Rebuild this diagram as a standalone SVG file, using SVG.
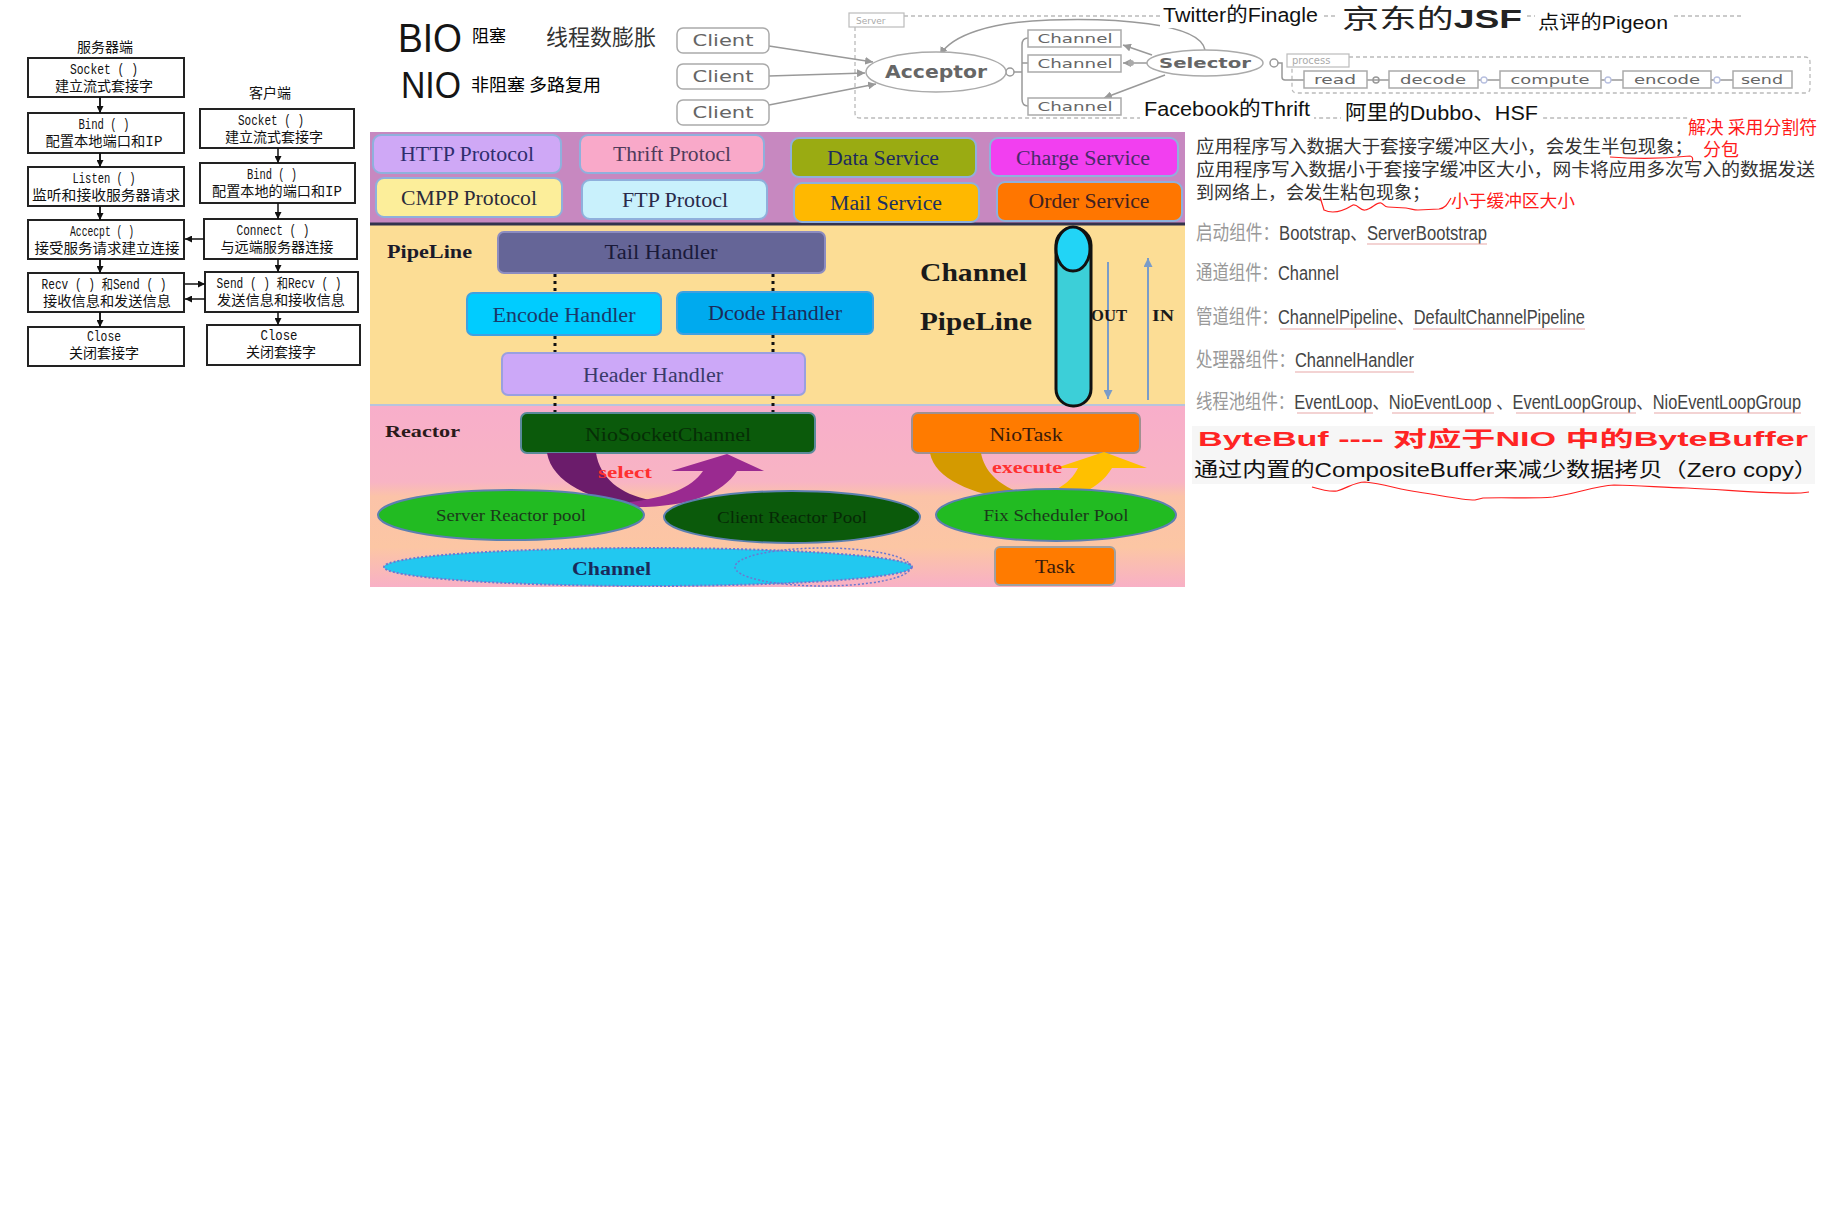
<svg xmlns="http://www.w3.org/2000/svg" width="1829" height="1223" viewBox="0 0 1829 1223">
<defs>
<style>
.lc{font-family:"Liberation Mono","Noto Sans CJK SC",monospace;font-size:14px;fill:#111;text-anchor:middle}
.lt{font-family:"Noto Sans CJK SC",sans-serif;font-size:14px;fill:#111;text-anchor:middle}
.lb{fill:#fff;stroke:#222;stroke-width:2}
.gr{fill:#fff;stroke:#aaa;stroke-width:1.5}
.gt{font-family:"DejaVu Sans",sans-serif;fill:#666;text-anchor:middle}
.sf{font-family:"Liberation Serif","Noto Sans CJK SC",serif;text-anchor:middle}
.sb{font-family:"Liberation Serif",serif;font-weight:bold}
.cn{font-family:"Liberation Sans","Noto Sans CJK SC",sans-serif}
.zh{font-family:"Noto Sans CJK SC",sans-serif}
.pb{stroke:#8FB0DC;stroke-width:2}
.dot{stroke:#111;stroke-width:3;stroke-dasharray:3 4;fill:none}
.dash{fill:none;stroke:#bbb;stroke-width:1.3;stroke-dasharray:4 3}
.gl{fill:none;stroke:#999;stroke-width:1.5}
.red{fill:#ff1a1a}
.rl{fill:none;stroke:#ff2020;stroke-width:1.2}
.ul{stroke:#e8a8a8;stroke-width:1.2}
</style>
<marker id="ab" viewBox="0 0 8 8" refX="8" refY="4" markerWidth="7" markerHeight="7" markerUnits="userSpaceOnUse" orient="auto"><path d="M0,0 L8,4 L0,8 z" fill="#111"/></marker>
<marker id="ag" viewBox="0 0 8 8" refX="8" refY="4" markerWidth="8" markerHeight="8" markerUnits="userSpaceOnUse" orient="auto"><path d="M0,0 L8,4 L0,8 z" fill="#999"/></marker>
<marker id="abl" viewBox="0 0 8 8" refX="8" refY="4" markerWidth="9" markerHeight="9" markerUnits="userSpaceOnUse" orient="auto"><path d="M0,0 L8,4 L0,8 z" fill="#7a9cc8"/></marker>
<linearGradient id="rg" x1="0" y1="0" x2="0" y2="1">
<stop offset="0" stop-color="#f8aeca"/><stop offset="0.42" stop-color="#f8b4c4"/><stop offset="0.5" stop-color="#fbc3a8"/><stop offset="0.78" stop-color="#fcc6a4"/><stop offset="1" stop-color="#f8b0c6"/>
</linearGradient>
</defs>
<rect width="1829" height="1223" fill="#fff"/>

<!-- Left socket flowchart -->
<text x="105" y="52" class="lt" font-size="14">服务器端</text>
<text x="270" y="98" class="lt" font-size="14">客户端</text>
<g id="s-socket"><rect class="lb" x="28" y="58" width="156" height="39"/><text class="lc" x="104" y="74" textLength="68" lengthAdjust="spacingAndGlyphs">Socket ( )</text><text class="lt" x="104" y="91">建立流式套接字</text></g>
<g id="s-bind"><rect class="lb" x="28" y="113" width="156" height="40"/><text class="lc" x="104" y="129" textLength="51" lengthAdjust="spacingAndGlyphs">Bind ( )</text><text class="lc" x="104" y="146" textLength="117" lengthAdjust="spacingAndGlyphs">配置本地端口和IP</text></g>
<g id="s-listen"><rect class="lb" x="28" y="167" width="156" height="39"/><text class="lc" x="104" y="183" textLength="63" lengthAdjust="spacingAndGlyphs">Listen ( )</text><text class="lt" x="106" y="200" textLength="148" lengthAdjust="spacingAndGlyphs">监听和接收服务器请求</text></g>
<g id="s-accept"><rect class="lb" x="28" y="220" width="156" height="39"/><text class="lc" x="102" y="236" textLength="64" lengthAdjust="spacingAndGlyphs">Accecpt ( )</text><text class="lt" x="107" y="253" textLength="145" lengthAdjust="spacingAndGlyphs">接受服务请求建立连接</text></g>
<g id="s-recv"><rect class="lb" x="28" y="273" width="156" height="39"/><text class="lc" x="104" y="289" textLength="125" lengthAdjust="spacingAndGlyphs">Recv ( ) 和Send ( )</text><text class="lt" x="107" y="306" textLength="128" lengthAdjust="spacingAndGlyphs">接收信息和发送信息</text></g>
<g id="s-close"><rect class="lb" x="28" y="327" width="156" height="39"/><text class="lc" x="104" y="341" textLength="34" lengthAdjust="spacingAndGlyphs">Close</text><text class="lt" x="104" y="358">关闭套接字</text></g>

<g id="c-socket"><rect class="lb" x="200" y="109" width="154" height="39"/><text class="lc" x="271" y="125" textLength="66" lengthAdjust="spacingAndGlyphs">Socket ( )</text><text class="lt" x="274" y="142">建立流式套接字</text></g>
<g id="c-bind"><rect class="lb" x="200" y="163" width="155" height="40"/><text class="lc" x="272" y="179" textLength="50" lengthAdjust="spacingAndGlyphs">Bind ( )</text><text class="lc" x="277" y="196" textLength="130" lengthAdjust="spacingAndGlyphs">配置本地的端口和IP</text></g>
<g id="c-connect"><rect class="lb" x="204" y="219" width="153" height="40"/><text class="lc" x="273" y="235" textLength="73" lengthAdjust="spacingAndGlyphs">Connect ( )</text><text class="lt" x="277" y="252" textLength="113" lengthAdjust="spacingAndGlyphs">与远端服务器连接</text></g>
<g id="c-send"><rect class="lb" x="205" y="272" width="153" height="40"/><text class="lc" x="279" y="288" textLength="125" lengthAdjust="spacingAndGlyphs">Send ( ) 和Recv ( )</text><text class="lt" x="281" y="305" textLength="128" lengthAdjust="spacingAndGlyphs">发送信息和接收信息</text></g>
<g id="c-close"><rect class="lb" x="207" y="325" width="153" height="40"/><text class="lc" x="279" y="340" textLength="37" lengthAdjust="spacingAndGlyphs">Close</text><text class="lt" x="281" y="357">关闭套接字</text></g>

<!-- BIO / NIO -->
<g id="bio-nio">
<text class="cn" x="398" y="52" font-size="40" fill="#151515" textLength="64" lengthAdjust="spacingAndGlyphs">BIO</text>
<text class="zh" x="472" y="42" font-size="17" fill="#000">阻塞</text>
<text class="zh" x="546" y="45" font-size="22" fill="#333">线程数膨胀</text>
<text class="cn" x="401" y="98" font-size="36" fill="#151515" textLength="60" lengthAdjust="spacingAndGlyphs">NIO</text>
<text class="zh" x="471" y="91" font-size="17.5" fill="#000" textLength="130" lengthAdjust="spacingAndGlyphs">非阻塞 多路复用</text>
</g>

<!-- Server reactor sketch -->
<path class="dash" d="M904,16 L1744,16"/>
<path class="dash" d="M855,27 L855,113 Q855,118 860,118 L1690,118"/>
<path class="dash" d="M1349,57 L1805,57 Q1810,57 1810,62 L1810,88 Q1810,93 1805,93 L1297,93 Q1292,93 1292,88 L1292,68"/>
<g id="server-label"><rect x="849" y="13" width="55" height="14" fill="#fff" stroke="#bbb" stroke-width="1.2"/><text x="856" y="24" font-family="DejaVu Sans,sans-serif" font-size="9" fill="#aaa">Server</text></g>
<g id="process-label"><rect x="1287" y="54" width="62" height="13" fill="#fff" stroke="#bbb" stroke-width="1.2"/><text x="1292" y="64" font-family="DejaVu Sans,sans-serif" font-size="10" fill="#aaa">process</text></g>

<g id="connectors-top">
<path class="gl" d="M769,46 L873,62" marker-end="url(#ag)"/>
<path class="gl" d="M769,76 L865,73" marker-end="url(#ag)"/>
<path class="gl" d="M769,105 L876,84" marker-end="url(#ag)"/>
<path class="gl" d="M1205,50 C1200,22 1110,18 1050,20 C990,22 952,35 940,55" marker-end="url(#ag)"/>
<path class="gl" d="M1014,72 L1022,72 M1028,38 Q1022,38 1022,45 L1022,99 Q1022,106 1028,106 M1022,63 L1028,63"/>
<path class="gl" d="M1152,55 L1123,45" marker-end="url(#ag)"/>
<path class="gl" d="M1147,63 L1123,63" marker-end="url(#ag)"/>
<path class="gl" d="M1165,75 L1104,98" marker-end="url(#ag)"/>
<path class="gl" d="M1278,63 L1282,63 L1282,77 Q1282,80 1285,80 L1304,80"/>
<path class="gl" d="M1367,80 L1389,80 M1478,80 L1500,80 M1601,80 L1623,80 M1711,80 L1733,80"/>
<circle cx="1010" cy="72" r="4" class="gl" fill="#fff"/>
<circle cx="1274" cy="63" r="4" class="gl" fill="#fff"/>
<circle cx="1131" cy="63" r="3" fill="#aaa"/>
<circle cx="1376" cy="80" r="3" class="gl" fill="#fff"/>
<circle cx="1484" cy="80" r="3" fill="#fff" stroke="#b8c0e0" stroke-width="1.3"/>
<circle cx="1608" cy="80" r="3" fill="#fff" stroke="#b8c0e0" stroke-width="1.3"/>
<circle cx="1717" cy="80" r="3" fill="#fff" stroke="#b8c0e0" stroke-width="1.3"/>
<circle cx="860" cy="73" r="2" fill="#999"/>
</g>

<g id="client1"><rect class="gr" x="677" y="28" width="92" height="25" rx="6"/><text class="gt" x="723" y="46" font-size="15" textLength="61" lengthAdjust="spacingAndGlyphs">Client</text></g>
<g id="client2"><rect class="gr" x="677" y="64" width="92" height="25" rx="6"/><text class="gt" x="723" y="82" font-size="15" textLength="61" lengthAdjust="spacingAndGlyphs">Client</text></g>
<g id="client3"><rect class="gr" x="677" y="100" width="92" height="25" rx="6"/><text class="gt" x="723" y="118" font-size="15" textLength="61" lengthAdjust="spacingAndGlyphs">Client</text></g>
<g id="acceptor"><ellipse cx="936" cy="72" rx="70" ry="20" class="gr" stroke="#999"/><text class="gt" x="936" y="78" font-size="17" font-weight="bold" fill="#555" textLength="102" lengthAdjust="spacingAndGlyphs">Acceptor</text></g>
<g id="channel1"><rect class="gr" x="1028" y="30" width="93" height="17"/><text class="gt" x="1075" y="43" font-size="13" fill="#555" textLength="75" lengthAdjust="spacingAndGlyphs">Channel</text></g>
<g id="channel2"><rect class="gr" x="1028" y="55" width="93" height="17"/><text class="gt" x="1075" y="68" font-size="13" fill="#555" textLength="75" lengthAdjust="spacingAndGlyphs">Channel</text></g>
<g id="channel3"><rect class="gr" x="1028" y="98" width="93" height="17"/><text class="gt" x="1075" y="111" font-size="13" fill="#555" textLength="75" lengthAdjust="spacingAndGlyphs">Channel</text></g>
<g id="selector"><ellipse cx="1205" cy="63" rx="58" ry="13" class="gr" stroke="#999"/><text class="gt" x="1205" y="68" font-size="14" font-weight="bold" fill="#222" textLength="92" lengthAdjust="spacingAndGlyphs">Selector</text></g>
<g id="p-read"><rect class="gr" x="1304" y="71" width="63" height="17"/><text class="gt" x="1335" y="84" font-size="13" fill="#555" textLength="42" lengthAdjust="spacingAndGlyphs">read</text></g>
<g id="p-decode"><rect class="gr" x="1389" y="71" width="89" height="17"/><text class="gt" x="1433" y="84" font-size="13" fill="#555" textLength="66" lengthAdjust="spacingAndGlyphs">decode</text></g>
<g id="p-compute"><rect class="gr" x="1500" y="71" width="101" height="17"/><text class="gt" x="1550" y="84" font-size="13" fill="#555" textLength="79" lengthAdjust="spacingAndGlyphs">compute</text></g>
<g id="p-encode"><rect class="gr" x="1623" y="71" width="88" height="17"/><text class="gt" x="1667" y="84" font-size="13" fill="#555" textLength="66" lengthAdjust="spacingAndGlyphs">encode</text></g>
<g id="p-send"><rect class="gr" x="1733" y="71" width="59" height="17"/><text class="gt" x="1762" y="84" font-size="13" fill="#555" textLength="42" lengthAdjust="spacingAndGlyphs">send</text></g>

<g id="rpc-labels">
<rect x="1160" y="4" width="162" height="24" fill="#fff"/>
<text class="cn" x="1163" y="22" font-size="20" fill="#111" textLength="155" lengthAdjust="spacingAndGlyphs">Twitter的Finagle</text>
<rect x="1338" y="2" width="188" height="30" fill="#fff"/>
<text class="cn" x="1342" y="28" font-size="26" fill="#222" textLength="180" lengthAdjust="spacingAndGlyphs">京东的<tspan font-weight="bold">JSF</tspan></text>
<rect x="1535" y="12" width="136" height="22" fill="#fff"/>
<text class="cn" x="1538" y="29" font-size="19" fill="#111" textLength="130" lengthAdjust="spacingAndGlyphs">点评的Pigeon</text>
<rect x="1140" y="97" width="174" height="24" fill="#fff"/>
<text class="cn" x="1144" y="116" font-size="20" fill="#111" textLength="166" lengthAdjust="spacingAndGlyphs">Facebook的Thrift</text>
<rect x="1341" y="99" width="200" height="25" fill="#fff"/>
<text class="cn" x="1345" y="120" font-size="20" fill="#111" textLength="193" lengthAdjust="spacingAndGlyphs">阿里的Dubbo、HSF</text>
</g>

<!-- Netty architecture picture -->
<rect x="370" y="132" width="815" height="92" fill="#c788c0"/>
<rect x="370" y="225" width="815" height="180" fill="#fcdd95"/>
<rect x="370" y="406" width="815" height="181" fill="url(#rg)"/>
<line x1="370" y1="224" x2="1185" y2="224" stroke="#33334d" stroke-width="3"/>
<line x1="370" y1="405" x2="1185" y2="405" stroke="#b8c4dc" stroke-width="2"/>

<g id="http"><rect class="pb" x="373" y="135" width="188" height="38" rx="8" fill="#cfa8f6"/><text class="sf" x="467" y="161" font-size="20" fill="#2e2e6e" textLength="134" lengthAdjust="spacingAndGlyphs">HTTP Protocol</text></g>
<g id="thrift"><rect class="pb" x="580" y="135" width="184" height="38" rx="8" fill="#f9a9c9"/><text class="sf" x="672" y="161" font-size="20" fill="#503a5a" textLength="118" lengthAdjust="spacingAndGlyphs">Thrift Protocl</text></g>
<g id="cmpp"><rect class="pb" x="376" y="178" width="186" height="39" rx="8" fill="#fcee9a"/><text class="sf" x="469" y="205" font-size="20" fill="#2a2a3a" textLength="136" lengthAdjust="spacingAndGlyphs">CMPP Protocol</text></g>
<g id="ftp"><rect class="pb" x="582" y="180" width="185" height="39" rx="8" fill="#c9f1fc"/><text class="sf" x="675" y="207" font-size="20" fill="#2a2a4a" textLength="106" lengthAdjust="spacingAndGlyphs">FTP Protocl</text></g>
<g id="data"><rect class="pb" x="791" y="138" width="185" height="39" rx="8" fill="#9aab12"/><text class="sf" x="883" y="165" font-size="20" fill="#1e2a5e" textLength="112" lengthAdjust="spacingAndGlyphs">Data Service</text></g>
<g id="charge"><rect class="pb" x="990" y="138" width="188" height="38" rx="8" fill="#f23ff0"/><text class="sf" x="1083" y="165" font-size="20" fill="#4a2a6a" textLength="134" lengthAdjust="spacingAndGlyphs">Charge Service</text></g>
<g id="mail"><rect class="pb" x="794" y="183" width="185" height="39" rx="8" fill="#ffb800"/><text class="sf" x="886" y="210" font-size="20" fill="#203060" textLength="112" lengthAdjust="spacingAndGlyphs">Mail Service</text></g>
<g id="order"><rect class="pb" x="997" y="182" width="185" height="39" rx="8" fill="#ff7600"/><text class="sf" x="1089" y="208" font-size="20" fill="#402020" textLength="121" lengthAdjust="spacingAndGlyphs">Order Service</text></g>

<text class="sb" x="387" y="258" font-size="18" fill="#1a1a2a" textLength="85" lengthAdjust="spacingAndGlyphs">PipeLine</text>
<g id="dotted">
<path class="dot" d="M555,274 L555,293 M555,336 L555,353 M555,396 L555,412 M773,274 L773,292 M773,335 L773,353 M773,396 L773,412"/>
</g>
<g id="tail"><rect x="498" y="232" width="327" height="41" rx="6" fill="#656597" stroke="#8c8cc0" stroke-width="2"/><text class="sf" x="661" y="259" font-size="20" fill="#1a1a3a" textLength="113" lengthAdjust="spacingAndGlyphs">Tail Handler</text></g>
<g id="encode"><rect x="467" y="293" width="194" height="42" rx="6" fill="#00ccff" stroke="#40a0e0" stroke-width="2"/><text class="sf" x="564" y="322" font-size="20" fill="#1a3a6a" textLength="143" lengthAdjust="spacingAndGlyphs">Encode Handler</text></g>
<g id="dcode"><rect x="677" y="292" width="196" height="42" rx="6" fill="#00aaee" stroke="#40a0e0" stroke-width="2"/><text class="sf" x="775" y="320" font-size="20" fill="#1a2a5a" textLength="134" lengthAdjust="spacingAndGlyphs">Dcode Handler</text></g>
<g id="header"><rect x="502" y="353" width="303" height="42" rx="6" fill="#cca8f8" stroke="#9aa0e0" stroke-width="2"/><text class="sf" x="653" y="382" font-size="20" fill="#3a3a6a" textLength="140" lengthAdjust="spacingAndGlyphs">Header Handler</text></g>

<text class="sb" x="920" y="281" font-size="26" fill="#1a1a1a" textLength="107" lengthAdjust="spacingAndGlyphs">Channel</text>
<text class="sb" x="920" y="330" font-size="26" fill="#1a1a1a" textLength="112" lengthAdjust="spacingAndGlyphs">PipeLine</text>
<g id="tube">
<rect x="1056" y="228" width="35" height="178" rx="17" fill="#3ccfd8" stroke="#111" stroke-width="3"/>
<ellipse cx="1073" cy="249" rx="17" ry="22" fill="#22d4f6" stroke="#111" stroke-width="3"/>
</g>
<g id="out-in">
<line x1="1108" y1="262" x2="1108" y2="399" stroke="#7a9cc8" stroke-width="2" marker-end="url(#abl)"/>
<line x1="1148" y1="400" x2="1148" y2="258" stroke="#7a9cc8" stroke-width="2" marker-end="url(#abl)"/>
<text class="sb" x="1091" y="321" font-size="17" fill="#1a1a1a" textLength="36" lengthAdjust="spacingAndGlyphs">OUT</text>
<text class="sb" x="1152" y="321" font-size="17" fill="#1a1a1a" textLength="22" lengthAdjust="spacingAndGlyphs">IN</text>
</g>

<text class="sb" x="385" y="437" font-size="17" fill="#2a1a1a" textLength="75" lengthAdjust="spacingAndGlyphs">Reactor</text>
<g id="niosocket"><rect x="521" y="413" width="294" height="40" rx="6" fill="#0b5a0b" stroke="#5a8a9a" stroke-width="2"/><text class="sf" x="668" y="441" font-size="19" fill="#062e06" textLength="166" lengthAdjust="spacingAndGlyphs">NioSocketChannel</text></g>
<g id="niotask"><rect x="912" y="413" width="228" height="40" rx="6" fill="#ff7b00" stroke="#a09090" stroke-width="2"/><text class="sf" x="1026" y="441" font-size="19" fill="#3a1a0a" textLength="73" lengthAdjust="spacingAndGlyphs">NioTask</text></g>

<g id="select-arrow">
<path d="M547,453 L596,453 C600,478 620,494 650,500 L640,506 C590,501 552,482 547,453 Z" fill="#6b1c6b"/>
<path d="M630,502 C665,498 692,488 703,471 L671,471 L727,454 L764,471 L737,471 C722,494 688,508 630,507 Z" fill="#9a2a90"/>
<text class="sb" x="598" y="478" font-size="16" fill="#ff3030" textLength="54" lengthAdjust="spacingAndGlyphs">select</text>
</g>
<g id="execute-arrow">
<path d="M930,453 L981,453 C985,475 1005,490 1032,496 L1025,501 C975,496 935,480 930,453 Z" fill="#d49a00"/>
<path d="M1018,500 C1050,496 1070,485 1078,468 L1056,468 L1104,452 L1147,468 L1112,468 C1098,492 1065,504 1018,504 Z" fill="#ffc000"/>
<text class="sb" x="992" y="473" font-size="16" fill="#ff3030" textLength="70" lengthAdjust="spacingAndGlyphs">execute</text>
</g>

<g id="server-pool"><ellipse cx="511" cy="515" rx="133" ry="25" fill="#22bb22" stroke="#5c7fb0" stroke-width="2"/><text class="sf" x="511" y="521" font-size="17" fill="#1a3a1a" textLength="150" lengthAdjust="spacingAndGlyphs">Server Reactor pool</text></g>
<g id="client-pool"><ellipse cx="792" cy="517" rx="128" ry="26" fill="#0b5a0b" stroke="#5c7fb0" stroke-width="2"/><text class="sf" x="792" y="523" font-size="17" fill="#062a06" textLength="150" lengthAdjust="spacingAndGlyphs">Client Reactor Pool</text></g>
<g id="fix-pool"><ellipse cx="1056" cy="515" rx="120" ry="26" fill="#22bb22" stroke="#5c7fb0" stroke-width="2"/><text class="sf" x="1056" y="521" font-size="17" fill="#1a3a1a" textLength="145" lengthAdjust="spacingAndGlyphs">Fix Scheduler Pool</text></g>
<g id="channel-ellipse">
<ellipse cx="648" cy="567" rx="264" ry="19" fill="#22c8f0" stroke="#6c78d0" stroke-width="2" stroke-dasharray="2 2"/>
<ellipse cx="823" cy="567" rx="88" ry="19" fill="none" stroke="#6c78d0" stroke-width="1.5" stroke-dasharray="2 2"/>
<text class="sb" x="572" y="575" font-size="18" fill="#1a2a5a" textLength="79" lengthAdjust="spacingAndGlyphs">Channel</text>
</g>
<g id="task"><rect x="995" y="547" width="120" height="38" rx="5" fill="#ff7b00" stroke="#a0a0a0" stroke-width="2"/><text class="sf" x="1055" y="573" font-size="19" fill="#3a1a0a" textLength="40" lengthAdjust="spacingAndGlyphs">Task</text></g>

<!-- Right text column -->
<g id="notes">
<text class="zh" x="1196" y="153" font-size="18" fill="#333" textLength="497" lengthAdjust="spacingAndGlyphs">应用程序写入数据大于套接字缓冲区大小，会发生半包现象；</text>
<text class="zh" x="1196" y="176" font-size="18" fill="#333" textLength="619" lengthAdjust="spacingAndGlyphs">应用程序写入数据小于套接字缓冲区大小，网卡将应用多次写入的数据发送</text>
<text class="zh" x="1196" y="199" font-size="18" fill="#333" textLength="234" lengthAdjust="spacingAndGlyphs">到网络上，会发生粘包现象；</text>
<path class="rl" d="M1610,157 Q1650,160 1690,156 Q1694,157 1692,162"/>
<path class="rl" d="M1320,197 L1324,210 C1330,213 1340,213 1353,205 C1358,204 1360,211 1365,210 C1372,209 1376,202 1381,203 C1384,204 1384,207 1388,207 L1406,208 C1412,209 1414,210 1418,210 L1439,209 C1446,208 1448,203 1451,198"/>
<text class="zh red" x="1451" y="207" font-size="17.5" textLength="124" lengthAdjust="spacingAndGlyphs">小于缓冲区大小</text>
<text class="zh red" x="1688" y="134" font-size="18" textLength="129" lengthAdjust="spacingAndGlyphs">解决 采用分割符</text>
<text class="zh red" x="1703" y="156" font-size="18">分包</text>

<text class="cn" x="1196" y="240" font-size="20" fill="#444" textLength="291" lengthAdjust="spacingAndGlyphs"><tspan fill="#999">启动组件：</tspan>Bootstrap、ServerBootstrap</text>
<line class="ul" x1="1367" y1="244" x2="1487" y2="244"/>
<text class="cn" x="1196" y="280" font-size="20" fill="#444" textLength="143" lengthAdjust="spacingAndGlyphs"><tspan fill="#999">通道组件：</tspan>Channel</text>
<text class="cn" x="1196" y="324" font-size="20" fill="#444" textLength="389" lengthAdjust="spacingAndGlyphs"><tspan fill="#999">管道组件：</tspan>ChannelPipeline、DefaultChannelPipeline</text>
<line class="ul" x1="1280" y1="329" x2="1396" y2="329"/><line class="ul" x1="1413" y1="329" x2="1585" y2="329"/>
<text class="cn" x="1196" y="367" font-size="20" fill="#444" textLength="218" lengthAdjust="spacingAndGlyphs"><tspan fill="#999">处理器组件：</tspan>ChannelHandler</text>
<line class="ul" x1="1295" y1="372" x2="1414" y2="372"/>
<text class="cn" x="1196" y="409" font-size="20" fill="#444" textLength="605" lengthAdjust="spacingAndGlyphs"><tspan fill="#999">线程池组件：</tspan>EventLoop、NioEventLoop 、EventLoopGroup、NioEventLoopGroup</text>
<line class="ul" x1="1297" y1="413" x2="1373" y2="413"/><line class="ul" x1="1392" y1="413" x2="1494" y2="413"/><line class="ul" x1="1516" y1="413" x2="1636" y2="413"/><line class="ul" x1="1654" y1="413" x2="1801" y2="413"/>
<rect x="1192" y="426" width="623" height="58" fill="#f6f6f6"/>
<text class="cn" x="1198" y="446" font-size="21" font-weight="bold" fill="#ff2424" textLength="610" lengthAdjust="spacingAndGlyphs">ByteBuf ---- 对应于NIO 中的ByteBuffer</text>
<text class="cn" x="1194" y="477" font-size="20" fill="#111" textLength="624" lengthAdjust="spacingAndGlyphs">通过内置的CompositeBuffer来减少数据拷贝（Zero copy）</text>
<path class="rl" d="M1312,487 C1322,490 1330,492 1337,491 C1348,488 1354,482 1365,482 C1385,484 1400,490 1418,492 C1440,495 1460,500 1475,500 L1483,498 C1510,497 1530,499 1553,497 C1575,494 1595,486 1614,485 C1640,485 1665,488 1687,488 C1730,490 1770,494 1801,493 L1809,492"/>
</g>

<g id="connectors">
<path d="M100,97 L100,113 M100,153 L100,167 M100,206 L100,220 M100,259 L100,273 M100,312 L100,327" stroke="#111" stroke-width="1.5" fill="none"/>
<line x1="100" y1="97" x2="100" y2="113" stroke="#111" stroke-width="1.5" marker-end="url(#ab)"/>
<line x1="100" y1="153" x2="100" y2="167" stroke="#111" stroke-width="1.5" marker-end="url(#ab)"/>
<line x1="100" y1="206" x2="100" y2="220" stroke="#111" stroke-width="1.5" marker-end="url(#ab)"/>
<line x1="100" y1="259" x2="100" y2="273" stroke="#111" stroke-width="1.5" marker-end="url(#ab)"/>
<line x1="100" y1="312" x2="100" y2="327" stroke="#111" stroke-width="1.5" marker-end="url(#ab)"/>
<line x1="278" y1="148" x2="278" y2="163" stroke="#111" stroke-width="1.5" marker-end="url(#ab)"/>
<line x1="278" y1="203" x2="278" y2="219" stroke="#111" stroke-width="1.5" marker-end="url(#ab)"/>
<line x1="278" y1="259" x2="278" y2="272" stroke="#111" stroke-width="1.5" marker-end="url(#ab)"/>
<line x1="278" y1="312" x2="278" y2="325" stroke="#111" stroke-width="1.5" marker-end="url(#ab)"/>
<line x1="204" y1="239" x2="185" y2="239" stroke="#111" stroke-width="1.5" marker-end="url(#ab)"/>
<line x1="185" y1="284" x2="205" y2="284" stroke="#111" stroke-width="1.5" marker-end="url(#ab)"/>
<line x1="205" y1="299" x2="185" y2="299" stroke="#111" stroke-width="1.5" marker-end="url(#ab)"/>
</g>
</svg>
